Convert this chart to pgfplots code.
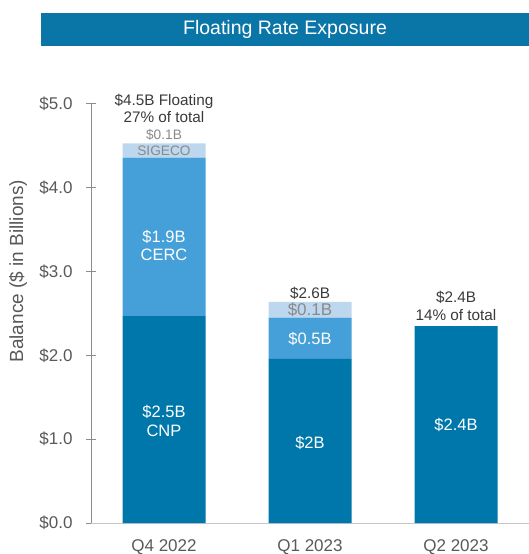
\documentclass[border=0pt]{standalone}
\usepackage{fontspec}
\setmainfont{Liberation Sans}
\usepackage{pgfplots}
\pgfplotsset{compat=1.18}
\definecolor{cnp}{HTML}{0077AA}
\definecolor{cerc}{HTML}{459FD8}
\definecolor{sig}{HTML}{BDD7EE}
\definecolor{ttl}{HTML}{0A76A8}
\definecolor{tickgray}{HTML}{595959}
\definecolor{lblgray}{HTML}{3A3A3A}
\definecolor{siggray}{HTML}{8A8A8A}
\newcommand{\fs}[1]{\fontsize{#1}{#1}\selectfont}
\begin{document}
\begin{tikzpicture}
\useasboundingbox (0,0) rectangle (529pt,554pt);
\fill[ttl] (41pt,508pt) rectangle (529pt,541pt);
\node[text=white,font=\fs{19.5}] at (285pt,524.5pt) {Floating Rate Exposure};
\begin{axis}[
  at={(91pt,31pt)}, anchor=south west,
  scale only axis, width=438pt, height=419pt,
  xmin=-0.5, xmax=2.5, ymin=0, ymax=5,
  ybar stacked, bar width=83pt,
  axis lines*=left,
  x axis line style={draw=black!22, line width=1pt},
  y axis line style={draw=black!45, line width=1pt},
  xtick={0,1,2}, xticklabels={Q4 2022,Q1 2023,Q2 2023},
  x tick style={draw=none},
  ytick={0,1,2,3,4,5},
  yticklabels={\$0.0,\$1.0,\$2.0,\$3.0,\$4.0,\$5.0},
  y tick style={draw=black!45, line width=1pt},
  tick align=center, major tick length=10pt,
  tick label style={font=\fs{17}, text=tickgray},
  yticklabel style={xshift=-10pt},
  xticklabel style={yshift=-8pt},
  ylabel={Balance (\$ in Billions)},
  every axis y label/.style={at={(axis description cs:-0.1667,0.601)}, anchor=center, rotate=90, font=\fs{19}, text=tickgray},
  clip=false,
]
\addplot[fill=cnp, draw=none] coordinates {(0,2.47) (1,1.96) (2,2.35)};
\addplot[fill=cerc, draw=none] coordinates {(0,1.89) (1,0.49) (2,0)};
\addplot[fill=sig, draw=none] coordinates {(0,0.17) (1,0.19) (2,0)};
\coordinate (L1) at (axis cs:0,4.95);
\coordinate (L2) at (axis cs:0,4.63);
\coordinate (L3) at (axis cs:0,4.44);
\coordinate (L4) at (axis cs:0,3.31);
\coordinate (L5) at (axis cs:0,1.22);
\coordinate (M1) at (axis cs:1,2.745);
\coordinate (M2) at (axis cs:1,2.54);
\coordinate (M3) at (axis cs:1,2.20);
\coordinate (M4) at (axis cs:1,0.955);
\coordinate (N1) at (axis cs:2,2.59);
\coordinate (N2) at (axis cs:2,1.17);
\end{axis}
\node[align=center, font=\fs{15.3}, text=lblgray, inner sep=0pt] at (L1) {\$4.5B Floating\\[2pt]27\% of total};
\node[font=\fs{13.7}, text=siggray, inner sep=0pt] at (L2) {\$0.1B};
\node[font=\fs{13.7}, text=siggray, inner sep=0pt] at (L3) {SIGECO};
\node[align=center, font=\fs{16.5}, text=white, inner sep=0pt] at (L4) {\$1.9B\\[2pt]CERC};
\node[align=center, font=\fs{16.5}, text=white, inner sep=0pt] at (L5) {\$2.5B\\[2pt]CNP};
\node[font=\fs{15.3}, text=lblgray, inner sep=0pt] at (M1) {\$2.6B};
\node[font=\fs{17}, text=siggray, inner sep=0pt] at (M2) {\$0.1B};
\node[font=\fs{16.5}, text=white, inner sep=0pt] at (M3) {\$0.5B};
\node[font=\fs{16.5}, text=white, inner sep=0pt] at (M4) {\$2B};
\node[align=center, font=\fs{15.3}, text=lblgray, inner sep=0pt] at (N1) {\$2.4B\\[2pt]14\% of total};
\node[font=\fs{16.5}, text=white, inner sep=0pt] at (N2) {\$2.4B};
\end{tikzpicture}
\end{document}
